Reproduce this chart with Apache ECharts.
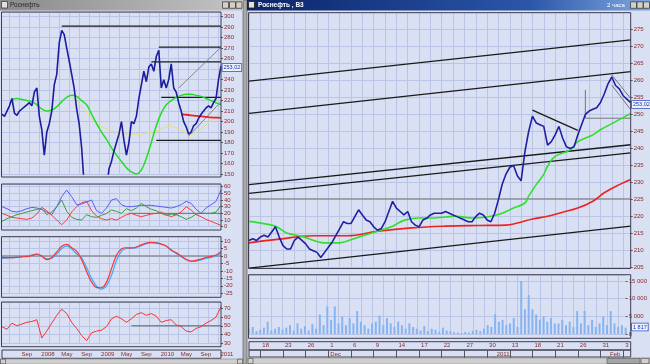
<!DOCTYPE html>
<html><head><meta charset="utf-8">
<script src="https://cdn.jsdelivr.net/npm/echarts@6/dist/echarts.min.js"></script>
<style>html,body{margin:0;padding:0;background:#c0c0c0}#c{width:650px;height:364px}</style>
</head><body><div id="c"></div>
<script>
// ---------- LEFT WINDOW DATA (semi-monthly, May 2007 - Jan 2011) ----------
const leftTickDates = ['2007-09-01','2008-01-01','2008-05-01','2008-09-01','2009-01-01','2009-05-01','2009-09-01','2010-01-01','2010-05-01','2010-09-01','2011-01-01'];
const leftTickLabels = ['Sep','2008','May','Sep','2009','May','Sep','2010','May','Sep','2011'];
const leftPrice = [207,205,210,215,222,208,206,210,212,214,216,218,215,228,232,205,192,168,190,198,
  210,235,245,275,287,283,270,258,245,232,212,198,175,140,125,110,105,100,98,105,
  110,120,135,155,162,172,180,188,200,182,168,180,200,198,205,222,235,248,238,252,
  255,248,262,268,232,240,232,240,255,232,228,218,210,200,195,188,190,196,198,203,
  207,210,213,215,213,218,222,240,253];
// values sampled at every second period
const leftGreen = [null,null,221,222,221,220,219,216,212,210,211,214,219,223,225,224,220,216,207,198,190,183,175,168,162,156,152,150,154,165,180,196,208,216,220,223,225,226,226,225,224,222,220,218,216];
const leftYellow = [null,null,null,null,null,null,null,null,null,null,null,null,null,null,223,220,214,209,203,198,195,193,191,190,189,188,188,188,188,189,190,191,193,195,195,194,192,189,188,190,193,197,201,205,210];
const leftRed = [null,null,null,null,null,null,null,null,null,null,null,null,null,null,null,null,null,null,null,null,null,null,null,null,null,null,null,null,null,null,null,null,null,null,null,null,207,206.5,206,205.5,205,204.5,204,203.7,203.5];
const adxBlue = [30,27,23,22,24,27,29,28,26,22,18,30,45,55,45,33,34,37,40,24,20,28,40,42,33,30,30,31,32,32,32,31,30,29,28,30,33,38,35,26,20,28,33,38,55];
const adxRed = [20,17,14,13,12,11,13,19,29,24,17,10,3,10,22,30,36,38,24,16,12,10,12,10,14,18,20,17,15,17,19,20,22,18,15,18,22,30,25,18,15,11,8,5,2];
const adxGreen = [8,12,15,18,20,22,24,26,27,18,22,30,40,23,14,11,10,18,15,14,17,20,25,23,20,27,24,28,35,30,26,24,20,17,19,18,15,11,14,19,20,20,20,22,32];
const macdRed = [-0.9,-1.1,-1.1,-0.9,-0.6,-0.4,0.3,1.3,-0.2,-2.5,-1.0,2.7,6.5,7.8,5.5,3.2,-2.5,-10.5,-17.5,-21.2,-21.3,-17.5,-8.5,0.5,4.6,5.5,5.4,6.0,7.4,8.6,9.1,8.6,7.9,6.7,3.8,2.1,0.0,-2.4,-3.5,-2.9,-2.1,-1.0,-0.3,0.6,2.9];
const macdBlue = [-1.6,-1.4,-1.2,-0.8,-0.4,0,0.6,1.3,0.2,-2.0,-1.5,1.3,5.0,6.6,4.6,1.3,-1.2,-7.8,-15.0,-20.3,-22.2,-19.8,-13.0,-3.0,3.0,5.0,5.1,5.6,6.9,8.2,8.9,8.9,8.0,6.5,4.2,1.7,-0.5,-2.3,-3.6,-3.5,-2.6,-1.6,-0.9,0.0,1.8];
const rsi = [49,46,53,50,52,54,55,57,36,44,53,62,69,64,54,47,39,33,42,44,45,49,58,61,58,54,58,63,65,62,64,61,54,56,57,51,49,44,43,47,49,53,56,60,72];
// drawn levels / trend lines [period index, price]
const leftLevels = [291, 271, 257, 223, 182];
const leftLevelFrom = [24, 63, 60, 64, 62];
const leftLevelTo = 88;
const leftChannelA = [[71,232],[88,271]];
const leftChannelB = [[75,186],[88,219]];
const adxLevel = [[51,20],[88,20]];
const rsiLevel = [[52,50],[88,50]];

// ---------- RIGHT WINDOW DATA (2-hour chart, two samples per trading day) ----------
const tradingDays = ['16.11','17.11','18.11','19.11','22.11','23.11','24.11','25.11','26.11','29.11','30.11',
  '01.12','02.12','03.12','06.12','07.12','08.12','09.12','10.12','13.12','14.12','15.12','16.12','17.12','20.12','21.12','22.12','23.12','24.12','27.12','28.12','29.12','30.12',
  '11.01','12.01','13.01','14.01','17.01','18.01','19.01','20.01','21.01','24.01','25.01','26.01','27.01','28.01','31.01',
  '01.02','02.02','03.02','04.02'];
const sessions = ['10:00','16:00'];
const rightTickDays = ['18.11','23.11','26.11','01.12','06.12','09.12','14.12','17.12','22.12','27.12','30.12','13.01','18.01','21.01','26.01','31.01','03.02'];
const rightTickLabels = ['18','23','26','1','6','9','14','17','22','27','30','13','18','21','26','31','3'];
const rightMonthDays = ['01.12','11.01','01.02'];
const rightMonthLabels = ['Dec','2011','Feb'];
const rightPrice = [213,213.5,213,214,214.5,214,215.5,217,214,211.5,
  210.5,210.5,213,214,213,212,210.5,210,209.5,208,
  209.5,211,212.5,214.5,216.5,218.5,218,218,220,222,
  220.5,219,218.5,217,216,216.5,218.5,221.5,224.5,222.5,
  221.5,220.5,221.5,218.5,217.5,217,219,219.5,220.5,221,
  221,221,221.5,221,220.5,220,219.5,219,218.5,218.5,
  220,221,220.5,219,218.5,221,225,229.5,232.5,234.5,
  235,232,230.5,239,245,249.5,247.5,247,246.5,241,
  242,244,246.5,243,240.5,240,240.5,244,247,250,
  251,251.5,252,253.5,256,259,261,258.5,257.5,255.5,
  254.5,253.5];
const rightGreenIdx = [0,3,7,10,14,18,20,24,27,31,34,38,41,45,48,52,55,59,63,66,70,73,74,76,78,79,81,85,87,91,93,96,101];
const rightGreenVals = [218.6,218.1,217.2,215.2,214.2,212.7,212.3,212.3,213.2,214.7,215.7,217.2,218.9,219.6,219.6,219.9,220.1,219.6,219.9,220.6,222.5,224,226,229.4,232.4,234.8,237.7,239.6,242,244,245.5,247.3,250.3];
const rightRedIdx = [0,8,17,26,34,43,52,61,68,71,75,79,83,87,91,94,98,101];
const rightRedVals = [212.3,213.4,214.4,214.4,215.7,216.7,217.2,217.4,217.5,218.1,219.3,220.1,221.3,222.5,224.5,227,229.4,230.9];
const rightVolume = [1500,2000,800,1200,1800,3500,1000,1500,
  2000,1200,1800,2500,1000,3000,1500,2200,1000,2800,1500,
  5500,2500,7800,4000,7800,3000,5000,2500,4500,3000,6500,3500,
  2500,1500,3000,3500,5200,2500,4500,3000,2000,3500,2500,1500,3000,2000,
  1500,1000,2200,800,1500,1200,600,1800,1000,800,500,400,300,600,400,900,1200,800,1500,2500,2000,
  5600,3500,4000,2500,3000,4500,2000,
  15000,7000,11000,
  7000,5500,4000,5000,3500,4500,3000,
  3000,4000,2500,3500,2000,6500,3000,6500,2500,4000,2000,3000,5000,2500,6500,3000,2000,2500,1800];
const rightTrendBlack = [
  [[0,259.8],[101,271.9]],
  [[0,250.3],[101,262.6]],
  [[0,229.4],[101,241.1]],
  [[0,226.8],[101,238.7]],
  [[0,204.9],[101,217.2]],
  [[75,251.3],[87,245.3]]
];
const rightTrendGray = [
  [[0,225.2],[101,225.2]],
  [[89,257.2],[89,248.9],[101,248.9]],
  [[96,261.6],[101,254.7]],
  [[96,258.6],[101,251.4]]
];

// ---------- build categories ----------
const leftCats = ['2007-05-16'];
for (let y = 2007, m = 6; y < 2011 || (y === 2011 && m <= 1); ) {
  const mm = String(m).padStart(2,'0');
  leftCats.push(`${y}-${mm}-01`, `${y}-${mm}-16`);
  m++; if (m > 12) { m = 1; y++; }
}
const rightCats = [];
tradingDays.forEach(d => sessions.forEach(s => rightCats.push(d + ' ' + s)));
rightCats.shift(); rightCats.pop();

// ---------- styling ----------
const FONT = 'Liberation Sans';
const LBL = '#8a2a2a';
const BG = '#d9e0f3';
const GRIDC = '#bac5e5';
const FRAME = '#3e3e52';

const evenPairs = vals => vals.map((v,j) => [2*j, v]);
const pairs = (idx, vals) => idx.map((x,j) => [x, vals[j]]);
function lineS(ai, data, color, width, extra) {
  return Object.assign({type:'line', xAxisIndex:ai, yAxisIndex:ai, data, symbol:'none', showSymbol:false,
    lineStyle:{color, width}, silent:true, z:3, connectNulls:false}, extra || {});
}
const leftSplit = (i, v) => v.slice(8) === '01' && ['01','03','05','07','09','11'].includes(v.slice(5,7));
const rightSplit = (i) => i % 3 === 0;
function paneX(gi, cats, splitFn) {
  return {gridIndex:gi, type:'category', data:cats, boundaryGap:false,
    axisLine:{show:false}, axisTick:{show:false}, axisLabel:{show:false},
    splitLine:{show:true, interval:splitFn, lineStyle:{color:GRIDC, width:1}}};
}
function paneY(gi, min, max, interval, fmt) {
  return {gridIndex:gi, type:'value', position:'right', min, max, interval,
    axisLine:{show:false}, axisTick:{show:true, length:2, lineStyle:{color:'#555'}},
    axisLabel:{show:true, showMaxLabel:false, fontSize:6, fontFamily:FONT, color:LBL, margin:3, formatter:fmt},
    splitLine:{show:true, lineStyle:{color:GRIDC, width:1}}};
}
function stripX(gi, cats, isTick, fmt, h) {
  return {gridIndex:gi, type:'category', data:cats, boundaryGap:false, position:'top',
    axisLine:{show:false},
    axisTick:{show:true, inside:true, length:h, interval:isTick, lineStyle:{color:'#555'}},
    axisLabel:{show:true, inside:true, interval:isTick, formatter:fmt, align:'left', verticalAlign:'top',
      margin:1, padding:[0,0,0,2], fontSize:6, fontFamily:FONT, color:LBL},
    splitLine:{show:false}};
}
const hiddenY = gi => ({gridIndex:gi, type:'value', show:false, min:0, max:1});

const leftTickFn = (i, v) => leftTickDates.includes(v);
const leftTickFmt = v => leftTickLabels[leftTickDates.indexOf(v)] || '';
const rightTickKeys = rightTickDays.map(d => d + ' ' + sessions[0]);
const rightMonthKeys = rightMonthDays.map(d => d + ' ' + sessions[0]);
const rightTickFn = (i, v) => rightTickKeys.includes(v);
const rightTickFmt = v => rightTickLabels[rightTickKeys.indexOf(v)] || '';
const rightMonthFn = (i, v) => rightMonthKeys.includes(v);
const rightMonthFmt = v => rightMonthLabels[rightMonthKeys.indexOf(v)] || '';

const grids = [
  {left:2, top:12, width:219, height:162},          // 0 L price
  {left:2, top:184, width:219, height:42.7},        // 1 L ADX
  {left:2, top:236.7, width:219, height:56.6},      // 2 L MACD
  {left:2, top:302, width:219, height:41.3},        // 3 L RSI
  {left:2, top:350, width:219, height:8.3, show:true, borderColor:FRAME, borderWidth:1, backgroundColor:'transparent'}, // 4 L strip
  {left:249, top:12.3, width:381.7, height:255.4},  // 5 R price
  {left:249, top:275, width:381.7, height:59},      // 6 R volume
  {left:249, top:341.7, width:381.7, height:8.3, show:true, borderColor:FRAME, borderWidth:1, backgroundColor:'transparent'}, // 7 R days
  {left:249, top:350, width:381.7, height:7, show:true, borderColor:FRAME, borderWidth:1, backgroundColor:'transparent'}     // 8 R months
];

const xAxes = [
  paneX(0, leftCats, leftSplit), paneX(1, leftCats, leftSplit), paneX(2, leftCats, leftSplit), paneX(3, leftCats, leftSplit),
  stripX(4, leftCats, leftTickFn, leftTickFmt, 8.3),
  paneX(5, rightCats, rightSplit), paneX(6, rightCats, rightSplit),
  stripX(7, rightCats, rightTickFn, rightTickFmt, 8.3),
  stripX(8, rightCats, rightMonthFn, rightMonthFmt, 7)
];
const yAxes = [
  paneY(0, 150, 304.5, 10), paneY(1, 0, 64, 10), paneY(2, -25, 12.9, 5), paneY(3, 30, 77.2, 10),
  hiddenY(4),
  paneY(5, 205, 280, 5),
  paneY(6, 0, 16700, 5000, v => v === 0 ? '0' : (v/1000) + ' 000'),
  hiddenY(7), hiddenY(8)
];

const series = [];
// left price pane
leftLevels.forEach((lv, j) => series.push(lineS(0, [[leftLevelFrom[j], lv],[leftLevelTo, lv]], '#1a1a1a', 1.2)));
series.push(lineS(0, leftChannelA, '#707070', 0.8));
series.push(lineS(0, leftChannelB, '#707070', 0.8));
series.push(lineS(0, evenPairs(leftYellow), '#e8e070', 1, {smooth:0.4}));
series.push(lineS(0, evenPairs(leftGreen), '#22dd22', 1.5, {smooth:0.4}));
series.push(lineS(0, evenPairs(leftRed), '#ee2020', 1.8, {smooth:0.4}));
series.push(lineS(0, leftPrice, '#1c1c9e', 1.6, {z:4}));
// ADX pane
series.push(lineS(1, adxLevel, '#707070', 1));
series.push(lineS(1, evenPairs(adxBlue), '#5a5aff', 1));
series.push(lineS(1, evenPairs(adxRed), '#ff3a3a', 1));
series.push(lineS(1, evenPairs(adxGreen), '#3c9c3c', 1));
// MACD pane
series.push(lineS(2, [[0,0],[88,0]], '#707070', 1));
series.push(lineS(2, evenPairs(macdBlue), '#3aaaff', 1.2, {smooth:0.3}));
series.push(lineS(2, evenPairs(macdRed), '#ff3030', 1.2, {smooth:0.3}));
// RSI pane
series.push(lineS(3, rsiLevel, '#606060', 1));
series.push(lineS(3, evenPairs(rsi), '#ff3030', 1));
// right price pane
rightTrendGray.forEach(t => series.push(lineS(5, t, '#6a6a6a', 0.9)));
rightTrendBlack.forEach(t => series.push(lineS(5, t, '#1a1a1a', 1.3)));
series.push(lineS(5, pairs(rightRedIdx, rightRedVals), '#ee2222', 1.6, {smooth:0.4}));
series.push(lineS(5, pairs(rightGreenIdx, rightGreenVals), '#2ee02e', 1.6, {smooth:0.4}));
series.push(lineS(5, rightPrice, '#1f1fa4', 1.6, {z:4}));
// volume
series.push({type:'bar', xAxisIndex:6, yAxisIndex:6, data:rightVolume, barWidth:2, silent:true,
  itemStyle:{color:'#86b4f2'}});

const txt = (x, y, text, fill, size, extra) => ({type:'text', x, y, z:120,
  style:Object.assign({text, fill, fontSize:size, fontFamily:FONT, textVerticalAlign:'middle'}, extra || {})});
const rect = (x, y, w, h, style, z) => ({type:'rect', shape:{x, y, width:w, height:h}, style, z: z || 110});
const btn = (x, y) => rect(x, y, 6, 6.5, {fill:'#d4d0c8', stroke:'#404040', lineWidth:0.8}, 121);

const graphic = [
  // gap between windows
  rect(243, 0, 4, 364, {fill:'#a9a9a9', stroke:'#6c6c6c', lineWidth:0.8}),
  // left title bar (inactive)
  rect(0, 0, 243, 10.5, {fill:new echarts.graphic.LinearGradient(0,0,1,0,[{offset:0,color:'#8a8a8a'},{offset:1,color:'#c4c4c4'}])}),
  rect(1.5, 1.5, 6, 6.5, {fill:'#e0e0e0', stroke:'#404040', lineWidth:0.8}, 121),
  txt(10, 5.5, 'Роснефть', '#2a2a2a', 6.5),
  btn(222.5, 1.8), btn(229.5, 1.8), btn(236, 1.8),
  // right title bar (active)
  rect(247, 0, 403, 10.5, {fill:new echarts.graphic.LinearGradient(0,0,1,0,[{offset:0,color:'#0a246a'},{offset:0.7,color:'#2b56a8'},{offset:1,color:'#7fa8de'}])}),
  rect(248.5, 1.5, 6, 6.5, {fill:'#e0e0e0', stroke:'#202020', lineWidth:0.8}, 121),
  txt(258, 5.5, 'Роснефть , В3', '#ffffff', 6.5, {fontWeight:'bold'}),
  txt(607, 5.5, '2 часа', '#ffffff', 6),
  btn(630.5, 1.8), btn(637, 1.8), btn(643.5, 1.8),
  // pane frames
  rect(1.5, 12, 219.5, 165, {fill:null, stroke:FRAME, lineWidth:1}),
  rect(1.5, 184, 219.5, 46, {fill:null, stroke:FRAME, lineWidth:1}),
  rect(1.5, 236.7, 219.5, 60.6, {fill:null, stroke:FRAME, lineWidth:1}),
  rect(1.5, 302, 219.5, 44.7, {fill:null, stroke:FRAME, lineWidth:1}),
  rect(248.5, 12.7, 382.2, 255.8, {fill:null, stroke:FRAME, lineWidth:1}),
  rect(248.5, 274.7, 382.2, 63.6, {fill:null, stroke:FRAME, lineWidth:1}),
  // scrollbars
  rect(0, 359, 243, 5, {fill:'#cfcfcf', stroke:'#8a8a8a', lineWidth:0.6}),
  rect(0.5, 359.2, 5, 4.6, {fill:'#d4d0c8', stroke:'#404040', lineWidth:0.6}, 111),
  rect(237.5, 359.2, 5, 4.6, {fill:'#d4d0c8', stroke:'#404040', lineWidth:0.6}, 111),
  rect(247, 358, 403, 6, {fill:'#cfcfcf', stroke:'#8a8a8a', lineWidth:0.6}),
  rect(248, 358.4, 5, 5.2, {fill:'#d4d0c8', stroke:'#404040', lineWidth:0.6}, 111),
  rect(607, 358.4, 33, 5.2, {fill:'#a4a4a4', stroke:'#505050', lineWidth:0.6}, 111),
  rect(641, 358.4, 8, 5.2, {fill:'#d4d0c8', stroke:'#404040', lineWidth:0.6}, 111),
  // current value boxes
  txt(222.5, 67.5, '253,02', '#1030c0', 5.5, {backgroundColor:'#eef2fb', borderColor:'#3050c0', borderWidth:0.8, padding:[0.5,1]}),
  txt(632, 104.5, '253,02', '#1030c0', 5.5, {backgroundColor:'#eef2fb', borderColor:'#3050c0', borderWidth:0.8, padding:[0.5,1]}),
  txt(632, 327, '1 817', '#1030c0', 5.5, {backgroundColor:'#eef2fb', borderColor:'#3050c0', borderWidth:0.8, padding:[0.5,1]})
];

const chart = echarts.init(document.getElementById('c'), null, {renderer:'canvas', width:650, height:364});
chart.setOption({
  animation:false,
  backgroundColor:BG,
  grid:grids,
  xAxis:xAxes,
  yAxis:yAxes,
  series,
  graphic
});
</script></body></html>
